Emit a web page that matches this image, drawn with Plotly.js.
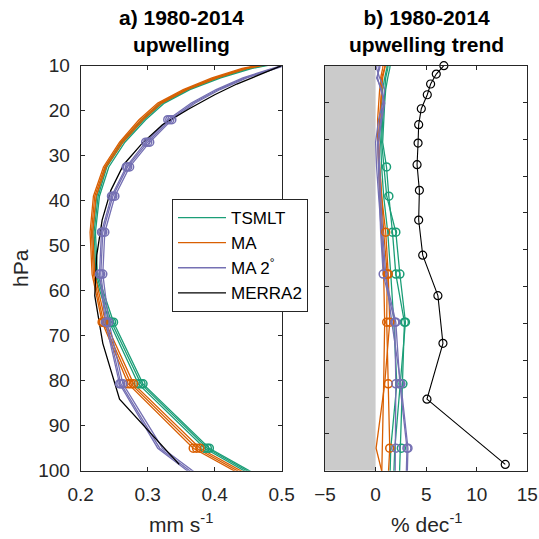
<!DOCTYPE html>
<html>
<head>
<meta charset="utf-8">
<script src="https://cdn.plot.ly/plotly-3.0.1.min.js"></script>
<style>html,body{margin:0;padding:0;background:#fff;}#chart{width:539px;height:539px;}</style>
</head>
<body>
<div id="chart"></div>
<script>
// ---------- data ----------
const modelLevels = [8.9, 10.6, 12.7, 15.3, 18.3, 22, 27, 32.5, 39, 47, 56.3, 67, 80.7, 95, 112];
const merraLevels = [10, 11.85, 14.07, 16.45, 19.57, 23.1, 27.2, 32.0, 37.7, 44.3, 52.1, 61.1, 71.7, 84.1, 98.6];

// panel a: upwelling (mm s-1), three ensemble members per model
const tsmltW1 = [0.510, 0.452, 0.405, 0.360, 0.322, 0.294, 0.263, 0.239, 0.226, 0.220, 0.223, 0.246, 0.290, 0.389, 0.590];
const tsmltW2 = [0.505, 0.448, 0.401, 0.357, 0.319, 0.291, 0.261, 0.237, 0.224, 0.218, 0.221, 0.243, 0.286, 0.385, 0.585];
const tsmltW3 = [0.515, 0.456, 0.409, 0.363, 0.325, 0.297, 0.266, 0.242, 0.228, 0.222, 0.225, 0.249, 0.293, 0.392, 0.595];
const maW1 = [0.505, 0.445, 0.400, 0.356, 0.318, 0.290, 0.260, 0.236, 0.221, 0.216, 0.219, 0.234, 0.275, 0.373, 0.580];
const maW2 = [0.500, 0.441, 0.396, 0.353, 0.315, 0.287, 0.258, 0.234, 0.219, 0.214, 0.217, 0.232, 0.271, 0.368, 0.575];
const maW3 = [0.509, 0.449, 0.404, 0.359, 0.321, 0.293, 0.263, 0.238, 0.223, 0.218, 0.221, 0.237, 0.279, 0.378, 0.585];
const ma2W1 = [0.525, 0.488, 0.445, 0.405, 0.368, 0.333, 0.300, 0.270, 0.248, 0.233, 0.230, 0.239, 0.260, 0.318, 0.470];
const ma2W2 = [0.522, 0.485, 0.442, 0.402, 0.365, 0.330, 0.297, 0.268, 0.246, 0.231, 0.228, 0.237, 0.258, 0.315, 0.465];
const ma2W3 = [0.528, 0.491, 0.448, 0.408, 0.371, 0.336, 0.303, 0.273, 0.251, 0.236, 0.233, 0.242, 0.263, 0.322, 0.475];
const merraW = [0.500, 0.470, 0.433, 0.400, 0.362, 0.322, 0.292, 0.264, 0.245, 0.232, 0.224, 0.221, 0.233, 0.258, 0.347];

// markers flags in panel a
const markW_tsmlt = [0,0,0,0,0,0,0,0,0,0,0,1,1,1,0];
const markW_ma    = [0,0,0,0,0,0,0,0,0,0,0,1,1,1,0];
const markW_ma2   = [0,0,0,0,0,1,1,1,1,1,1,1,1,0,0];

// panel b: upwelling trend (% dec-1)
const tsmltT1 = [1.5, 1.4, 1.2, 1.0, 0.9, 0.8, 0.7, 1.08, 1.31, 1.67, 2.0, 2.85, 2.7, 2.55, 2.2];
const tsmltT2 = [1.3, 1.2, 1.0, 0.9, 0.8, 0.7, 0.6, 0.8, 1.1, 2.0, 2.4, 2.95, 2.4, 1.9, 1.6];
const tsmltT3 = [1.2, 1.1, 0.9, 0.7, 0.6, 0.6, 0.5, 0.6, 0.8, 1.2, 1.5, 1.8, 2.1, 1.5, 1.3];
const maT1 = [1.0, 0.9, 0.7, 0.6, 0.5, 0.4, 0.3, 0.4, 0.6, 0.8, 1.15, 1.1, 1.25, 1.4, 1.0];
const maT2 = [0.8, 0.7, 0.5, 0.6, 0.5, 0.4, 0.3, 0.4, 0.6, 1.0, 1.25, 1.4, 0.9, 0.05, 1.9];
const maT3 = [1.1, 0.9, 0.6, 0.4, 0.3, 0.2, 0.2, 0.3, 0.4, 0.6, 0.8, 0.9, 0.8, 0.7, 0.5];
const ma2T1 = [0.5, 0.4, 0.1, 0.6, 0.8, 0.5, 0.2, 0.3, 0.4, 0.5, 0.75, 1.9, 2.0, 2.0, 1.9];
const ma2T2 = [0.2, 0.1, 0.4, 0.9, 0.7, 0.3, 0.0, 0.1, 0.3, 0.6, 0.9, 2.0, 2.4, 3.1, 2.9];
const ma2T3 = [0.4, 0.3, 0.2, 0.5, 0.9, 0.6, 0.3, 0.4, 0.5, 0.7, 1.0, 1.6, 2.5, 3.2, 3.0];
const merraT = [6.75, 6.0, 5.44, 5.11, 4.52, 4.26, 4.2, 4.10, 4.33, 4.26, 4.66, 6.16, 6.66, 5.08, 12.82];

const markT_tsmlt1 = [0,0,0,0,0,0,0,1,1,1,1,1,1,1,0];
const markT_tsmlt2 = [0,0,0,0,0,0,0,0,0,1,1,1,1,0,0];
const markT_tsmlt3 = [0,0,0,0,0,0,0,0,0,0,0,0,0,0,0];
const markT_ma1 = [0,0,0,0,0,0,0,0,0,0,1,1,1,1,0];
const markT_ma2 = [0,0,0,0,0,0,0,0,0,1,1,1,0,0,0];
const markT_ma3 = [0,0,0,0,0,0,0,0,0,0,0,0,0,0,0];
const markT_ma2_1 = [0,0,0,0,0,0,0,0,0,0,1,1,1,1,0];
const markT_ma2_2 = [0,0,0,0,0,0,0,0,0,0,0,1,1,1,0];
const markT_ma2_3 = [0,0,0,0,0,0,0,0,0,0,0,0,1,1,0];

const names = ['TSMLT', 'MA', 'MA 2<sup>°</sup>', 'MERRA2'];
const xTicksA = [0.2, 0.3, 0.4, 0.5];
const xTicksB = [-5, 0, 5, 10, 15];
const yTicks = [10, 20, 30, 40, 50, 60, 70, 80, 90, 100];

// ---------- styling ----------
const GREEN = '#1b9e77', ORANGE = '#d95f02', PURPLE = '#7570b3', BLACK = '#000000';
const AX = '#262626';
const FONT = 'Liberation Sans, Arial, Helvetica, sans-serif';

const traces = [];
function member(x, color, xa, ya, name, show) {
  traces.push({x: x, y: modelLevels, type: 'scatter', mode: 'lines', xaxis: xa, yaxis: ya,
    line: {color: color, width: 1.3}, name: name, showlegend: show, legendgroup: name, hoverinfo: 'skip'});
}
function marks(x, flags, color, xa, ya, name) {
  const xs = [], ys = [];
  flags.forEach((f, i) => { if (f) { xs.push(x[i]); ys.push(modelLevels[i]); } });
  if (!xs.length) return;
  traces.push({x: xs, y: ys, type: 'scatter', mode: 'markers', xaxis: xa, yaxis: ya, showlegend: false,
    legendgroup: name, marker: {symbol: 'circle-open', size: 8, color: color, line: {width: 1.5, color: color}}, hoverinfo: 'skip'});
}

// panel a
member(tsmltW1, GREEN, 'x', 'y', names[0], true);
member(tsmltW2, GREEN, 'x', 'y', names[0], false);
member(tsmltW3, GREEN, 'x', 'y', names[0], false);
member(maW1, ORANGE, 'x', 'y', names[1], true);
member(maW2, ORANGE, 'x', 'y', names[1], false);
member(maW3, ORANGE, 'x', 'y', names[1], false);
member(ma2W1, PURPLE, 'x', 'y', names[2], true);
member(ma2W2, PURPLE, 'x', 'y', names[2], false);
member(ma2W3, PURPLE, 'x', 'y', names[2], false);
traces.push({x: merraW, y: merraLevels, type: 'scatter', mode: 'lines', xaxis: 'x', yaxis: 'y',
  line: {color: BLACK, width: 1.3}, name: names[3], legendgroup: names[3], hoverinfo: 'skip'});
[tsmltW1, tsmltW2, tsmltW3].forEach(a => marks(a, markW_tsmlt, GREEN, 'x', 'y', names[0]));
[maW1, maW2, maW3].forEach(a => marks(a, markW_ma, ORANGE, 'x', 'y', names[1]));
[ma2W1, ma2W2, ma2W3].forEach(a => marks(a, markW_ma2, PURPLE, 'x', 'y', names[2]));

// panel b
member(tsmltT1, GREEN, 'x2', 'y2', names[0], false);
member(tsmltT2, GREEN, 'x2', 'y2', names[0], false);
member(tsmltT3, GREEN, 'x2', 'y2', names[0], false);
member(maT1, ORANGE, 'x2', 'y2', names[1], false);
member(maT2, ORANGE, 'x2', 'y2', names[1], false);
member(maT3, ORANGE, 'x2', 'y2', names[1], false);
member(ma2T1, PURPLE, 'x2', 'y2', names[2], false);
member(ma2T2, PURPLE, 'x2', 'y2', names[2], false);
member(ma2T3, PURPLE, 'x2', 'y2', names[2], false);
marks(tsmltT1, markT_tsmlt1, GREEN, 'x2', 'y2', names[0]);
marks(tsmltT2, markT_tsmlt2, GREEN, 'x2', 'y2', names[0]);
marks(tsmltT3, markT_tsmlt3, GREEN, 'x2', 'y2', names[0]);
marks(maT1, markT_ma1, ORANGE, 'x2', 'y2', names[1]);
marks(maT2, markT_ma2, ORANGE, 'x2', 'y2', names[1]);
marks(maT3, markT_ma3, ORANGE, 'x2', 'y2', names[1]);
marks(ma2T1, markT_ma2_1, PURPLE, 'x2', 'y2', names[2]);
marks(ma2T2, markT_ma2_2, PURPLE, 'x2', 'y2', names[2]);
marks(ma2T3, markT_ma2_3, PURPLE, 'x2', 'y2', names[2]);
traces.push({x: merraT, y: merraLevels, type: 'scatter', mode: 'lines+markers', xaxis: 'x2', yaxis: 'y2',
  line: {color: BLACK, width: 1.1}, marker: {symbol: 'circle-open', size: 8, color: BLACK, line: {width: 1.2, color: BLACK}},
  cliponaxis: false, showlegend: false, legendgroup: names[3], hoverinfo: 'skip'});

const yDom = [0.1267, 0.8781];
const bTicks = [];
for (let i = 0; i <= 11; i++) bTicks.push(10 + i * 90 / 11);

const axBase = {showline: true, linecolor: AX, linewidth: 1, mirror: 'ticks', ticks: 'inside', ticklen: 4,
  tickcolor: AX, tickwidth: 1, showgrid: false, zeroline: false, tickfont: {family: FONT, size: 19, color: AX}};

const layout = {
  width: 539, height: 539,
  margin: {l: 0, r: 0, t: 0, b: 0},
  paper_bgcolor: '#ffffff', plot_bgcolor: '#ffffff',
  font: {family: FONT, color: AX},
  showlegend: true,
  legend: {x: 172/539, y: 1 - 199/539, xanchor: 'left', yanchor: 'top', bgcolor: '#ffffff',
    bordercolor: AX, borderwidth: 1, font: {family: FONT, size: 17, color: '#000'}, itemwidth: 48, tracegroupgap: 0},
  xaxis: Object.assign({}, axBase, {domain: [0.1497, 0.5226], range: [0.2, 0.5], tickvals: xTicksA,
    ticktext: xTicksA.map(v => v.toFixed(1)), anchor: 'y', ticklabelstandoff: 6}),
  yaxis: Object.assign({}, axBase, {domain: yDom, range: [100, 10], tickvals: yTicks, anchor: 'x', ticklabelstandoff: 6}),
  xaxis2: Object.assign({}, axBase, {domain: [0.6030, 0.9783], range: [-5, 15], tickvals: xTicksB, anchor: 'y2', ticklabelstandoff: 6}),
  yaxis2: Object.assign({}, axBase, {domain: yDom, range: [100, 10], tickvals: bTicks, showticklabels: false, anchor: 'x2'}),
  shapes: [{type: 'rect', xref: 'x2', yref: 'y2', x0: -5, x1: 0, y0: 10, y1: 100, fillcolor: '#cbcbcb',
    line: {width: 0}, layer: 'below'}],
  annotations: [
    {text: '<b>a) 1980-2014</b><br><b>upwelling</b>', xref: 'paper', yref: 'paper', x: 181/539, y: 1 - 4/539,
      xanchor: 'center', yanchor: 'top', showarrow: false, font: {family: FONT, size: 21, color: '#000'}},
    {text: '<b>b) 1980-2014</b><br><b>upwelling trend</b>', xref: 'paper', yref: 'paper', x: 426/539, y: 1 - 4/539,
      xanchor: 'center', yanchor: 'top', showarrow: false, font: {family: FONT, size: 21, color: '#000'}},
    {text: 'mm s<sup>-1</sup>', xref: 'paper', yref: 'paper', x: 181/539, y: 1 - 538/539,
      xanchor: 'center', yanchor: 'bottom', showarrow: false, font: {family: FONT, size: 21, color: AX}},
    {text: '% dec<sup>-1</sup>', xref: 'paper', yref: 'paper', x: 426/539, y: 1 - 538/539,
      xanchor: 'center', yanchor: 'bottom', showarrow: false, font: {family: FONT, size: 21, color: AX}},
    {text: 'hPa', xref: 'paper', yref: 'paper', x: 20/539, y: 1 - 268/539, textangle: -90,
      xanchor: 'center', yanchor: 'middle', showarrow: false, font: {family: FONT, size: 21, color: AX}}
  ]
};

Plotly.newPlot('chart', traces, layout, {displayModeBar: false, staticPlot: true});
</script>
</body>
</html>
